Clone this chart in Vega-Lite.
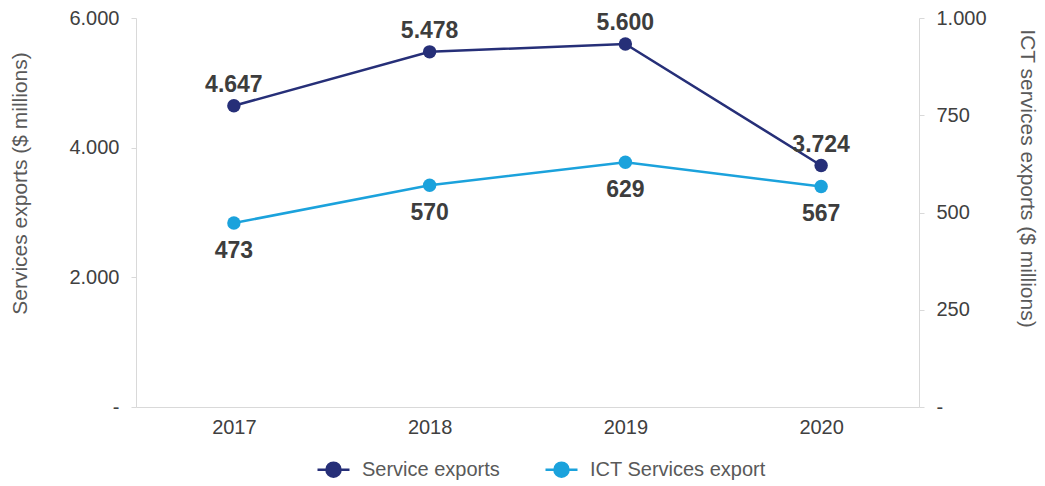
{
  "$schema": "https://vega.github.io/schema/vega-lite/v6.json",
  "width": 783,
  "height": 389,
  "padding": {"left": 9, "top": 8, "right": 3, "bottom": 0},
  "config": {
    "locale": {"number": {"decimal": ",", "thousands": ".", "grouping": [3], "currency": ["$", ""]}},
    "font": "Liberation Sans",
    "view": {"stroke": null},
    "axis": {"grid": false, "domainColor": "#d9d9d9", "tickColor": "#d9d9d9", "labelColor": "#404040", "labelFontSize": 20, "titleColor": "#595959", "titleFontSize": 21, "titleFontWeight": "normal"}
  },
  "data": {
    "values": [
      {"year": "2017", "series": "Service exports", "value": 4647},
      {"year": "2018", "series": "Service exports", "value": 5478},
      {"year": "2019", "series": "Service exports", "value": 5600},
      {"year": "2020", "series": "Service exports", "value": 3724},
      {"year": "2017", "series": "ICT Services export", "value": 473},
      {"year": "2018", "series": "ICT Services export", "value": 570},
      {"year": "2019", "series": "ICT Services export", "value": 629},
      {"year": "2020", "series": "ICT Services export", "value": 567}
    ]
  },
  "encoding": {
    "x": {"field": "year", "type": "ordinal", "scale": {"type": "point", "padding": 0.5},
      "axis": {"title": null, "labelAngle": 0, "ticks": false, "labelPadding": 10}},
    "color": {"field": "series", "type": "nominal",
      "scale": {"domain": ["Service exports", "ICT Services export"], "range": ["#262f78", "#1ba2dc"]},
      "legend": {"title": null, "orient": "none", "legendX": 180, "legendY": 434, "direction": "horizontal", "labelFontSize": 20, "labelColor": "#595959", "labelLimit": 400,
        "symbolType": "M-1,0L1,0M-0.44,0A0.44,0.44,0,1,1,0.44,0A0.44,0.44,0,1,1,-0.44,0Z",
        "symbolSize": 1024, "symbolStrokeWidth": 2.5, "columnPadding": 40, "labelOffset": 11,
        "encode": {"symbols": {"update": {"fill": {"scale": "color", "field": "value"}, "stroke": {"scale": "color", "field": "value"}, "opacity": {"value": 1}}}}}
    }
  },
  "layer": [
    {
      "transform": [{"filter": "datum.series === 'Service exports'"}],
      "encoding": {
        "y": {"field": "value", "type": "quantitative", "scale": {"domain": [0, 6000]},
          "axis": {"orient": "left", "title": "Services exports ($ millions)", "values": [0, 2000, 4000, 6000], "format": ",d",
            "labelExpr": "datum.value === 0 ? '-' : datum.label", "tickSize": 5, "labelPadding": 12, "titlePadding": 38, "titleY": 165}}
      },
      "layer": [
        {"mark": {"type": "line", "strokeWidth": 2.5, "point": {"filled": true, "size": 180}}},
        {"mark": {"type": "text", "dy": -14, "baseline": "alphabetic", "fontSize": 23, "fontWeight": "bold"},
          "encoding": {"text": {"field": "value", "type": "quantitative", "format": ",d"}, "color": {"value": "#3d3d3d"}}}
      ]
    },
    {
      "transform": [{"filter": "datum.series === 'ICT Services export'"}],
      "encoding": {
        "y": {"field": "value", "type": "quantitative", "scale": {"domain": [0, 1000]},
          "axis": {"orient": "right", "title": "ICT services exports ($ millions)", "values": [0, 250, 500, 750, 1000], "format": ",d",
            "labelExpr": "datum.value === 0 ? '-' : datum.label", "tickSize": 5, "labelPadding": 12, "titlePadding": 30, "titleY": 160}}
      },
      "layer": [
        {"mark": {"type": "line", "strokeWidth": 2.5, "point": {"filled": true, "size": 180}}},
        {"mark": {"type": "text", "dy": 35, "baseline": "alphabetic", "fontSize": 23, "fontWeight": "bold"},
          "encoding": {"text": {"field": "value", "type": "quantitative", "format": ",d"}, "color": {"value": "#3d3d3d"}}}
      ]
    }
  ],
  "resolve": {"scale": {"y": "independent"}}
}
